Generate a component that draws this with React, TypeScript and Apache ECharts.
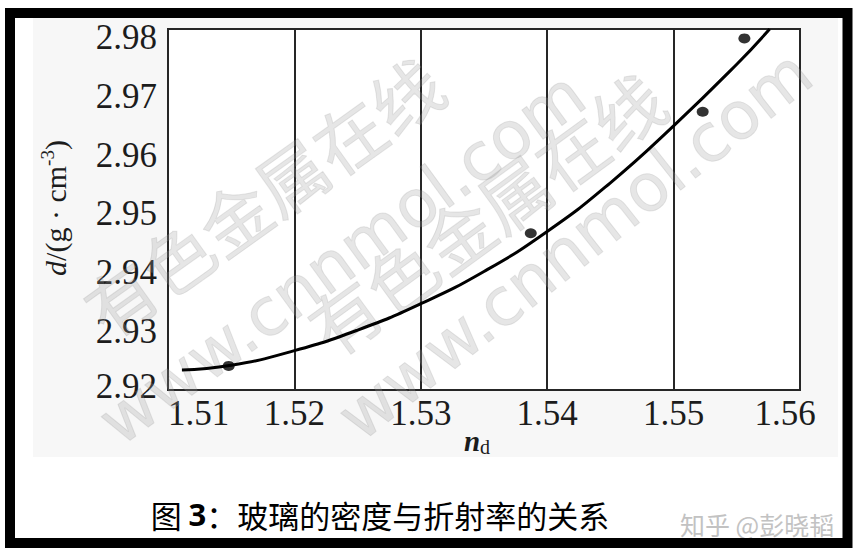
import React, { useEffect, useRef } from 'react';
import * as echarts from 'echarts';

// Axis ranges / ticks (n_d on x, density d on y)
const xMin = 1.51;
const xMax = 1.56;
const xStep = 0.01;
const yMin = 2.92;
const yMax = 2.9815;
const yStep = 0.01;

const measuredNd = [1.5148, 1.5387, 1.5523, 1.5556];
const measuredD = [2.9241, 2.9467, 2.9674, 2.9799];

// Fitted curve
const curveNd = [1.5111, 1.515, 1.52, 1.525, 1.53, 1.535, 1.54, 1.545, 1.55, 1.555, 1.5576];
const curveD = [2.9234, 2.9242, 2.9267, 2.9302, 2.9347, 2.9402, 2.947, 2.9553, 2.965, 2.9755, 2.9815];

const titleText = '图 {b|3}：玻璃的密度与折射率的关系';
const sourceText = '知乎 @彭晓韬';
const watermarkCn = '有色金属在线';
const watermarkUrl = 'www.cnnmol.com';

export default function App() {
  const ref = useRef<HTMLDivElement>(null);

  useEffect(() => {
    document.body.style.margin = '0';
    const chart = echarts.init(ref.current!, null, { renderer: 'svg' });

    const measured = measuredNd.map((x, i) => [x, measuredD[i]]);
    const curve = curveNd.map((x, i) => [x, curveD[i]]);
    const onTick = (v: number, step: number) =>
      Math.abs(v / step - Math.round(v / step)) < 0.01;

    const serif = 'Liberation Serif, DejaVu Serif, serif';
    const labelFont = { fontFamily: serif, fontSize: 35, color: '#1c1c1c' };
    const wmStyle = (text: string, size: number, family: string) => ({
      text,
      fontSize: size,
      fontFamily: family,
      fill: 'rgba(160,160,160,0.26)',
      stroke: 'rgba(120,120,120,0.16)',
      lineWidth: 1,
      align: 'center',
      verticalAlign: 'middle',
    });

    chart.setOption({
      animation: false,
      backgroundColor: '#ffffff',
      grid: {
        left: 168,
        right: 61,
        top: 29,
        bottom: 169,
        show: true,
        backgroundColor: '#ffffff',
        borderColor: '#262626',
        borderWidth: 2,
      },
      xAxis: {
        type: 'value',
        min: xMin,
        max: xMax,
        interval: xStep,
        axisLine: { show: true, lineStyle: { color: '#262626', width: 2 } },
        axisTick: { show: false },
        splitLine: { show: true, lineStyle: { color: '#262626', width: 2 } },
        axisLabel: {
          formatter: (v: number) => {
            if (!onTick(v, xStep)) return '';
            const s = v.toFixed(2);
            return Math.abs(v - xMax) < 1e-6 ? `{r|${s}}` : s;
          },
          ...labelFont,
          margin: 6,
          alignMinLabel: 'left',
          rich: { r: { ...labelFont, padding: [0, 30, 0, 0] } },
        },
      },
      yAxis: {
        type: 'value',
        min: yMin,
        max: yMax,
        interval: yStep,
        axisLine: { show: true, lineStyle: { color: '#262626', width: 2 } },
        axisTick: { show: false },
        splitLine: { show: false },
        axisLabel: {
          formatter: (v: number) => {
            if (!onTick(v, yStep)) return '';
            const s = v.toFixed(2);
            return Math.abs(v - yMin) < 1e-6 ? `{lo|${s}}` : s;
          },
          ...labelFont,
          margin: 11,
          rich: { lo: { ...labelFont, padding: [0, 0, 8, 0] } },
        },
      },
      series: [
        {
          type: 'line',
          data: curve,
          smooth: 0.5,
          showSymbol: false,
          lineStyle: { color: '#000000', width: 3 },
          z: 3,
          silent: true,
        },
        {
          type: 'scatter',
          data: measured,
          symbol: 'circle',
          symbolSize: [12, 10],
          itemStyle: { color: '#000000' },
          z: 4,
          silent: true,
        },
      ],
      graphic: [
        {
          type: 'rect',
          z: -10,
          shape: { x: 33, y: 17, width: 805, height: 440 },
          style: { fill: '#f7f7f7' },
          silent: true,
        },
        {
          type: 'text',
          z: 1,
          x: 262,
          y: 195,
          rotation: 0.62,
          style: wmStyle(watermarkCn, 70, 'Noto Sans CJK SC, sans-serif'),
          silent: true,
        },
        {
          type: 'text',
          z: 1,
          x: 342,
          y: 258,
          rotation: 0.63,
          style: wmStyle(watermarkUrl, 66, 'DejaVu Sans, sans-serif'),
          silent: true,
        },
        {
          type: 'text',
          z: 1,
          x: 485,
          y: 212,
          rotation: 0.63,
          style: wmStyle(watermarkCn, 70, 'Noto Sans CJK SC, sans-serif'),
          silent: true,
        },
        {
          type: 'text',
          z: 1,
          x: 575,
          y: 245,
          rotation: 0.67,
          style: wmStyle(watermarkUrl, 66, 'DejaVu Sans, sans-serif'),
          silent: true,
        },
        {
          type: 'text',
          z: 5,
          x: 55,
          y: 208,
          rotation: Math.PI / 2,
          style: {
            text: '{i|d}/(g · cm{s|-3})',
            align: 'center',
            verticalAlign: 'middle',
            fill: '#1c1c1c',
            fontFamily: serif,
            fontSize: 30,
            rich: {
              i: { fontStyle: 'italic', fontFamily: serif, fontSize: 30, fill: '#1c1c1c' },
              s: { fontFamily: serif, fontSize: 19, fill: '#1c1c1c', padding: [0, 0, 16, 0] },
            },
          },
          silent: true,
        },
        {
          type: 'text',
          z: 5,
          x: 477,
          y: 441,
          style: {
            text: '{n|n}{d|d}',
            align: 'center',
            verticalAlign: 'middle',
            fill: '#1c1c1c',
            rich: {
              n: { fontStyle: 'italic', fontWeight: 'bold', fontFamily: serif, fontSize: 29, fill: '#1c1c1c' },
              d: { fontFamily: serif, fontSize: 20, fill: '#1c1c1c', padding: [12, 0, 0, 0] },
            },
          },
          silent: true,
        },
        {
          type: 'text',
          z: 5,
          x: 380,
          y: 514,
          style: {
            text: titleText,
            align: 'center',
            verticalAlign: 'middle',
            fill: '#000000',
            fontFamily: 'Noto Sans CJK SC, sans-serif',
            fontSize: 31,
            rich: {
              b: { fontWeight: 'bold', fontFamily: 'Noto Sans, sans-serif', fontSize: 31, fill: '#000000' },
            },
          },
          silent: true,
        },
        {
          type: 'text',
          z: 5,
          x: 680,
          y: 524,
          style: {
            text: sourceText,
            align: 'left',
            verticalAlign: 'middle',
            fill: '#c2c2c2',
            fontFamily: 'Noto Sans CJK SC, sans-serif',
            fontSize: 25,
          },
          silent: true,
        },
        {
          type: 'rect',
          z: 6,
          shape: { x: 10, y: 13, width: 837.5, height: 530 },
          style: { fill: 'none', stroke: '#000000', lineWidth: 10 },
          silent: true,
        },
      ],
    });

    return () => chart.dispose();
  }, []);

  return <div ref={ref} style={{ width: 861, height: 559 }} />;
}
